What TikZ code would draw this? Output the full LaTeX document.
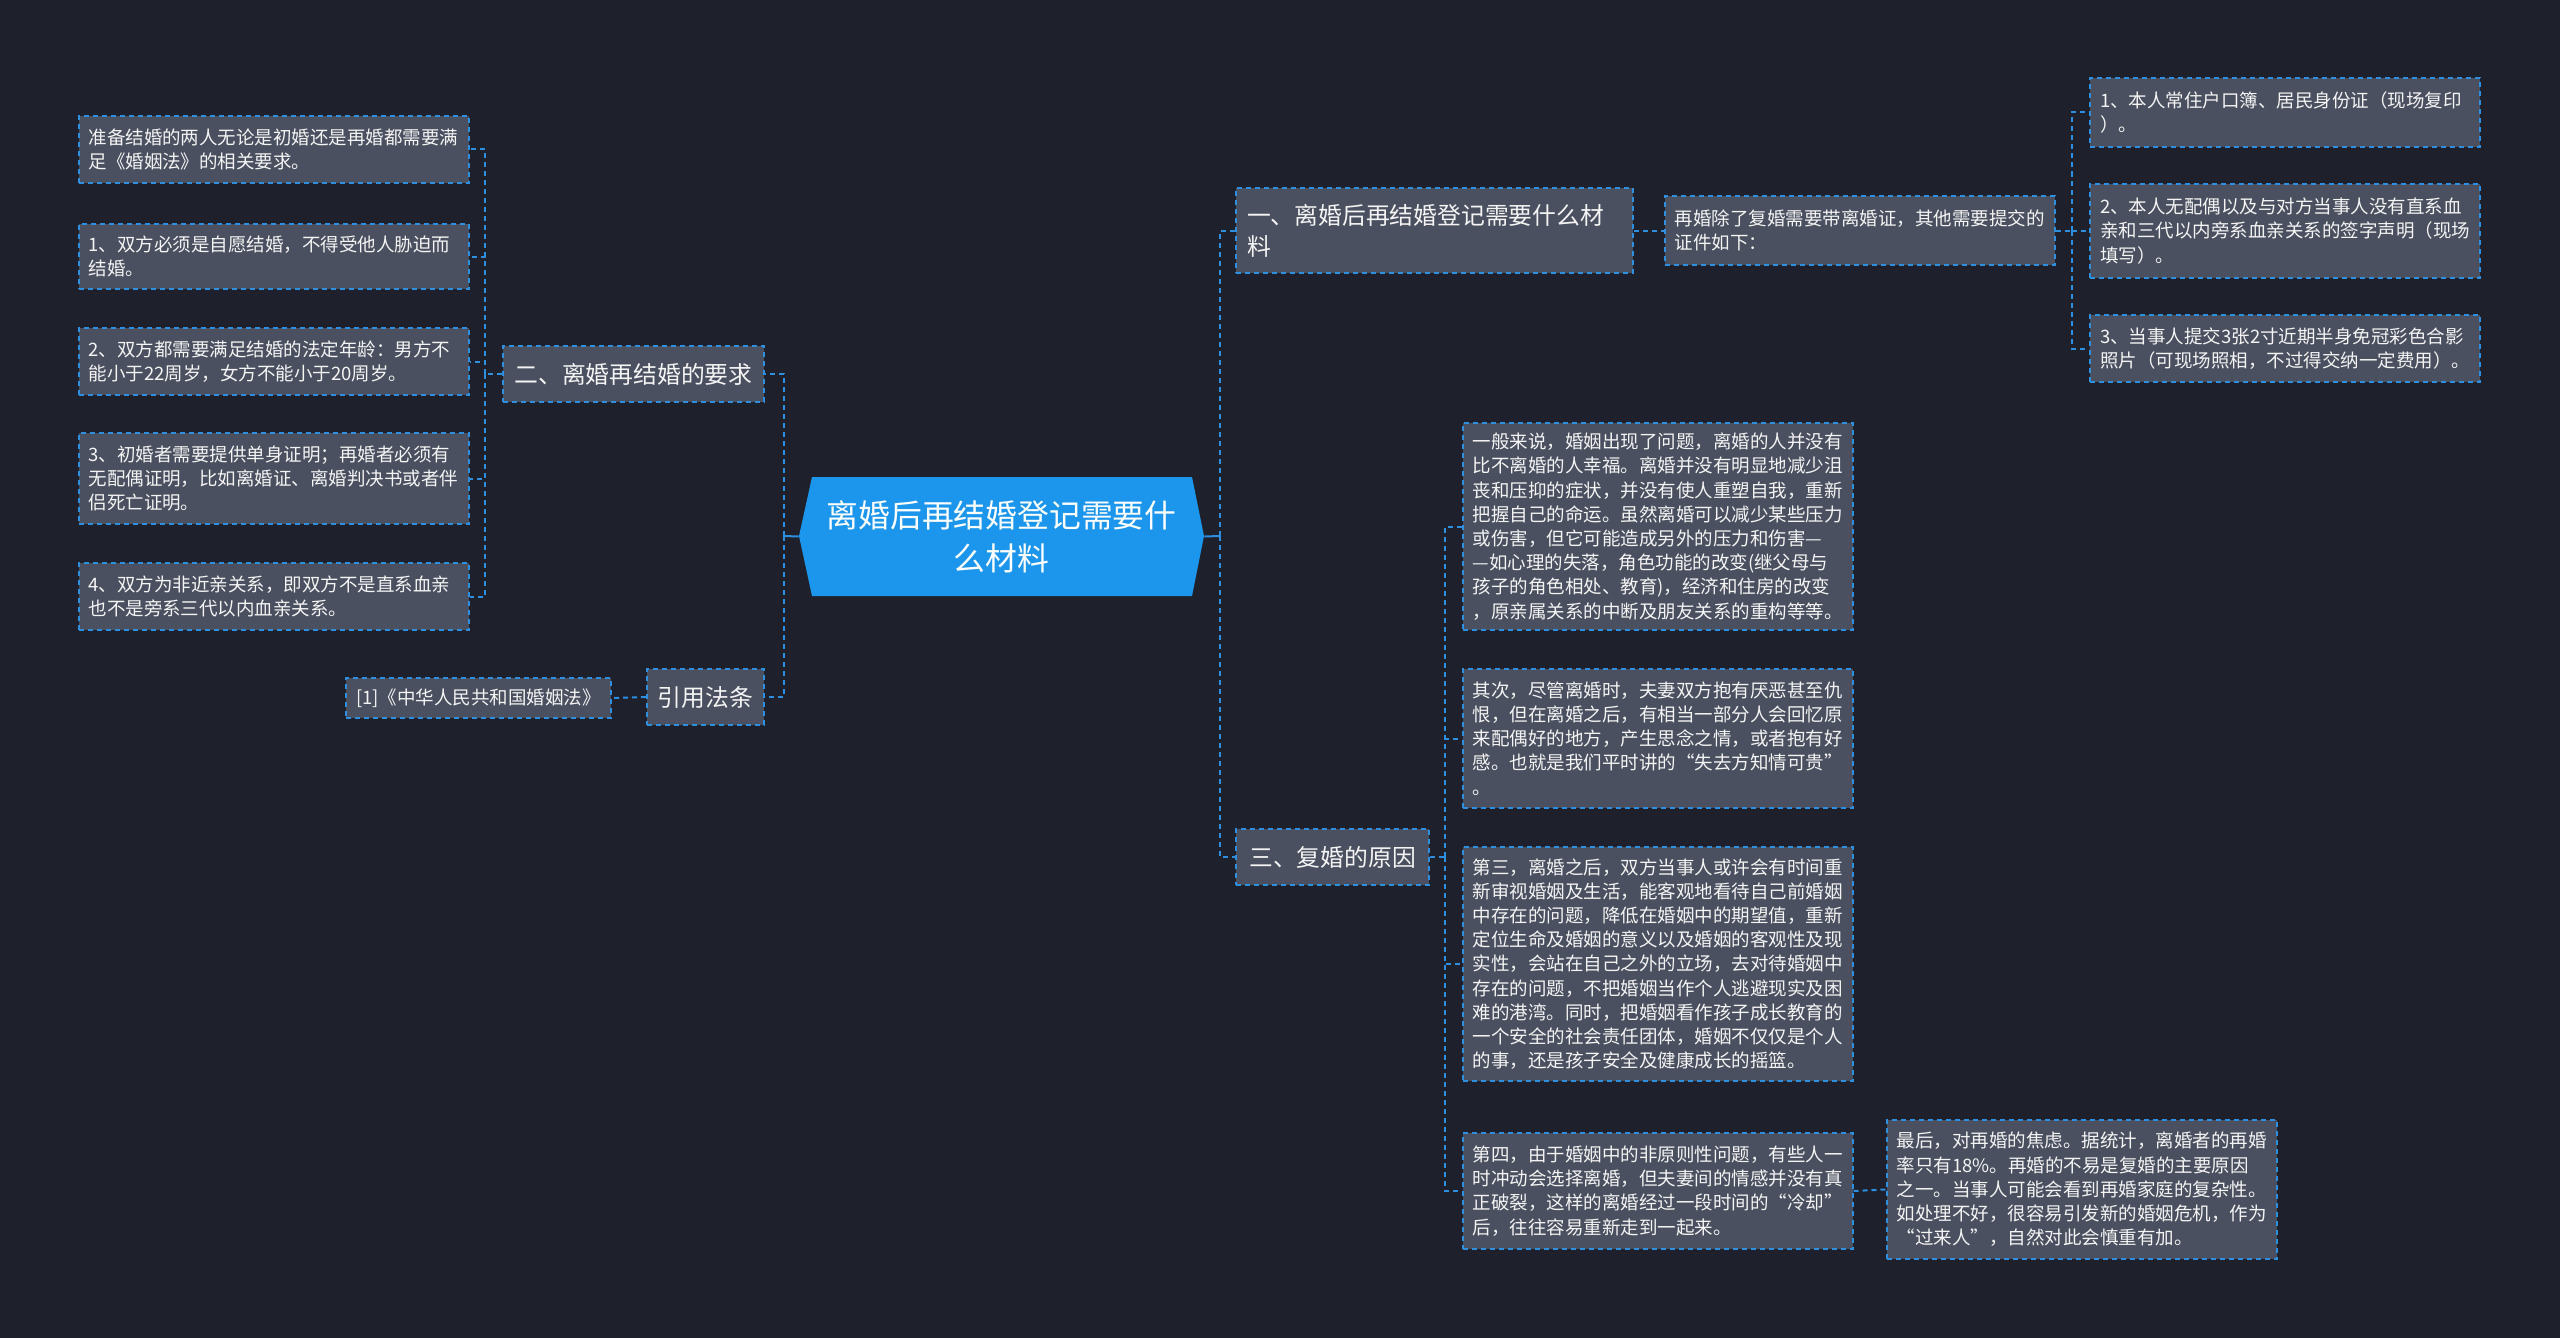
\documentclass[tikz,border=0pt]{standalone}
\usepackage{fontspec}
\setmainfont{Noto Sans CJK SC}
\usetikzlibrary{calc}
\definecolor{bgc}{HTML}{1E212B}
\definecolor{boxc}{HTML}{4A5060}
\definecolor{bordc}{HTML}{2E8FE0}
\definecolor{hexc}{HTML}{1C96EC}
\definecolor{txtc}{HTML}{F4F4F4}
\tikzset{
  box/.style={draw=bordc, fill=boxc, line width=1pt, dash pattern=on 2.5pt off 2pt,
    text=txtc, inner xsep=5pt, inner ysep=0pt, anchor=center},
  small/.style={box, font=\fontsize{9.25pt}{12.1pt}\selectfont, text width=185pt, align=left},
  mid/.style={box, font=\fontsize{11.9pt}{15.5pt}\selectfont, align=center},
  conn/.style={draw=bordc, line width=1pt, dash pattern=on 2.5pt off 2pt},
  stub/.style={draw=bordc, line width=1pt}
}
\begin{document}
\begin{tikzpicture}[x=0.5pt,y=-0.5pt]
\useasboundingbox (0,0) rectangle (2560,1338);
\fill[bgc] (0,0) rectangle (2560,1338);

% central hexagon
\fill[hexc] (799,536) -- (812,477) -- (1192,477) -- (1204,536) -- (1192,596) -- (812,596) -- cycle;
\node[text=white, font=\fontsize{15.9pt}{21.5pt}\selectfont, align=center,
      minimum width=202.5pt, minimum height=59.5pt, inner sep=0pt] (hex) at (1001.5,536.5)
  {离婚后再结婚登记需要什\\么材料};

% left side
\node[mid, minimum width=130.5pt, minimum height=28pt] (req) at (633.5,374) {二、离婚再结婚的要求};
\node[mid, minimum width=58.5pt, minimum height=28pt] (ref) at (705.5,697) {引用法条};
\node[box, font=\fontsize{9.25pt}{12.1pt}\selectfont, minimum width=132.5pt, minimum height=20pt] (cite) at (478.5,698) {[1]《中华人民共和国婚姻法》};

\node[small, minimum height=33.5pt] (L0) at (273.5,149.5) {准备结婚的两人无论是初婚还是再婚都需要满\\足《婚姻法》的相关要求。};
\node[small, minimum height=32.5pt] (L1) at (273.5,256.5) {1、双方必须是自愿结婚，不得受他人胁迫而\\结婚。};
\node[small, minimum height=33.5pt] (L2) at (273.5,361.5) {2、双方都需要满足结婚的法定年龄：男方不\\能小于22周岁，女方不能小于20周岁。};
\node[small, minimum height=45.5pt] (L3) at (273.5,478.5) {3、初婚者需要提供单身证明；再婚者必须有\\无配偶证明，比如离婚证、离婚判决书或者伴\\侣死亡证明。};
\node[small, minimum height=33.5pt] (L4) at (273.5,596.5) {4、双方为非近亲关系，即双方不是直系血亲\\也不是旁系三代以内血亲关系。};

% right side
\node[box, font=\fontsize{11.9pt}{15.5pt}\selectfont, text width=187.5pt, align=left, inner xsep=5.5pt, minimum height=42.5pt] (s1) at (1434.5,230.5) {一、离婚后再结婚登记需要什么材\\料};
\node[small, minimum height=34.5pt] (m1) at (1859.5,230.5) {再婚除了复婚需要带离婚证，其他需要提交的\\证件如下：};
\node[small, minimum height=34.5pt] (R1) at (2285,112.5) {1、本人常住户口簿、居民身份证（现场复印\\）。};
\node[small, minimum height=47pt] (R2) at (2285,231) {2、本人无配偶以及与对方当事人没有直系血\\亲和三代以内旁系血亲关系的签字声明（现场\\填写）。};
\node[small, minimum height=33.5pt] (R3) at (2285,348.5) {3、当事人提交3张2寸近期半身免冠彩色合影\\照片（可现场照相，不过得交纳一定费用）。};

\node[mid, minimum width=96.5pt, minimum height=28pt] (s3) at (1332.5,857) {三、复婚的原因};
\node[small, minimum height=103.5pt] (T1) at (1657.5,526.5) {一般来说，婚姻出现了问题，离婚的人并没有\\比不离婚的人幸福。离婚并没有明显地减少沮\\丧和压抑的症状，并没有使人重塑自我，重新\\把握自己的命运。虽然离婚可以减少某些压力\\或伤害，但它可能造成另外的压力和伤害—\\—如心理的失落，角色功能的改变(继父母与\\孩子的角色相处、教育)，经济和住房的改变\\，原亲属关系的中断及朋友关系的重构等等。};
\node[small, minimum height=69.5pt] (T2) at (1657.5,738.5) {其次，尽管离婚时，夫妻双方抱有厌恶甚至仇\\恨，但在离婚之后，有相当一部分人会回忆原\\来配偶好的地方，产生思念之情，或者抱有好\\感。也就是我们平时讲的“失去方知情可贵”\\。};
\node[small, minimum height=117pt] (T3) at (1657.5,964) {第三，离婚之后，双方当事人或许会有时间重\\新审视婚姻及生活，能客观地看待自己前婚姻\\中存在的问题，降低在婚姻中的期望值，重新\\定位生命及婚姻的意义以及婚姻的客观性及现\\实性，会站在自己之外的立场，去对待婚姻中\\存在的问题，不把婚姻当作个人逃避现实及困\\难的港湾。同时，把婚姻看作孩子成长教育的\\一个安全的社会责任团体，婚姻不仅仅是个人\\的事，还是孩子安全及健康成长的摇篮。};
\node[small, minimum height=58pt] (T4) at (1657.5,1191) {第四，由于婚姻中的非原则性问题，有些人一\\时冲动会选择离婚，但夫妻间的情感并没有真\\正破裂，这样的离婚经过一段时间的“冷却”\\后，往往容易重新走到一起来。};
\node[small, minimum height=69.5pt] (T5) at (2081.5,1189.5) {最后，对再婚的焦虑。据统计，离婚者的再婚\\率只有18\%。再婚的不易是复婚的主要原因\\之一。当事人可能会看到再婚家庭的复杂性。\\如处理不好，很容易引发新的婚姻危机，作为\\“过来人”，自然对此会慎重有加。};

% trunk coordinates
\coordinate (lt) at (784,536);
\coordinate (lq) at (485,374);
\coordinate (rt) at (1220,536);
\coordinate (rm) at (2072,230.5);
\coordinate (tt) at (1445,857);

% connectors
\draw[stub] (hex.west) -- (lt);
\draw[conn] (lt) |- (req.east);
\draw[conn] (lt) |- (ref.east);
\draw[conn] (req.west) -- (lq);
\foreach \n in {L0,L1,L2,L3,L4} { \draw[conn] (lq) |- (\n.east); }
\draw[conn] (ref.west) -- (cite.east);

\draw[stub] (hex.east) -- (rt);
\draw[conn] (rt) |- (s1.west);
\draw[conn] (rt) |- (s3.west);
\draw[conn] (s1.east) -- (m1.west);
\draw[conn] (m1.east) -- (rm);
\foreach \n in {R1,R2,R3} { \draw[conn] (rm) |- (\n.west); }
\draw[conn] (s3.east) -- (tt);
\foreach \n in {T1,T2,T3,T4} { \draw[conn] (tt) |- (\n.west); }
\draw[conn] (T4.east) -- (T5.west);
\end{tikzpicture}
\end{document}
